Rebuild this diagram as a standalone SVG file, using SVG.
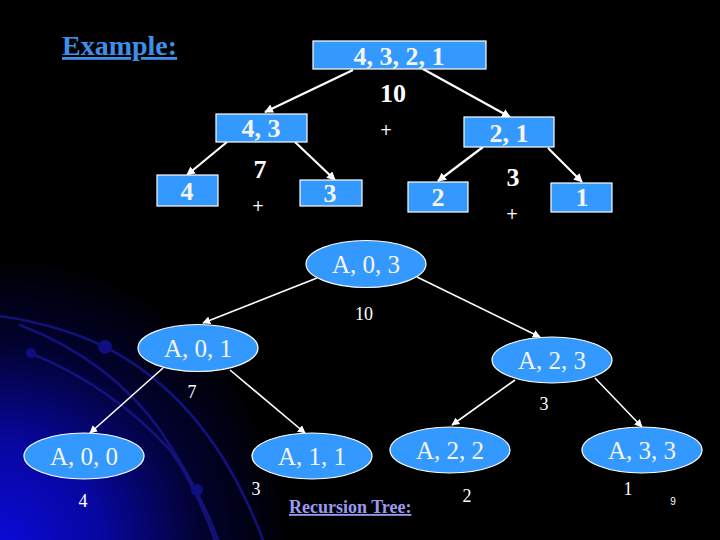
<svg xmlns="http://www.w3.org/2000/svg" width="720" height="540" viewBox="0 0 720 540">
<defs>
<radialGradient id="bg" cx="0" cy="545" r="290" gradientUnits="userSpaceOnUse">
<stop offset="0" stop-color="#0a0ad8"/>
<stop offset="0.35" stop-color="#0707a0"/>
<stop offset="0.7" stop-color="#02022e"/>
<stop offset="1" stop-color="#000000"/>
</radialGradient>
<marker id="ah" viewBox="0 0 10 10" refX="9" refY="5" markerWidth="4" markerHeight="4" orient="auto" markerUnits="strokeWidth">
<path d="M0,0 L10,5 L0,10 z" fill="#ffffff"/>
</marker>
<marker id="ah2" viewBox="0 0 10 10" refX="9" refY="5" markerWidth="5" markerHeight="5" orient="auto" markerUnits="strokeWidth">
<path d="M0,0 L10,5 L0,10 z" fill="#ffffff"/>
</marker>
</defs>
<style>
.box{fill:#3399ff;stroke:#ffffff;stroke-width:1.2}
.ell{fill:#3399ff;stroke:#ffffff;stroke-width:1.2}
.bt{font-family:"Liberation Serif",serif;font-weight:bold;font-size:26px;fill:#f5f5ee;text-anchor:middle}
.et{font-family:"Liberation Serif",serif;font-size:25px;fill:#f5f5ee;text-anchor:middle}
.lb{font-family:"Liberation Serif",serif;font-weight:bold;font-size:26px;fill:#ffffff;text-anchor:middle}
.pl{font-family:"DejaVu Sans",sans-serif;font-size:15px;fill:#ffffff;text-anchor:middle}
.sl{font-family:"Liberation Serif",serif;font-size:18px;fill:#ffffff;text-anchor:middle}
.c1{stroke:#ffffff;stroke-width:2.2;fill:none;marker-end:url(#ah)}
.c2{stroke:#ffffff;stroke-width:1.6;fill:none;marker-end:url(#ah2)}
.arc{stroke:#12127a;stroke-width:2.6;fill:none;stroke-linecap:round}
.dot{fill:#0e0e80}
</style>
<rect x="0" y="0" width="720" height="540" fill="#000000"/>
<rect x="0" y="0" width="720" height="540" fill="url(#bg)"/>
<g id="decoration">
<path class="arc" d="M0,316 Q60,325 105,347 Q210,400 263,540"/>
<path class="arc" d="M20,325 Q110,360 160,430 Q200,490 218,540"/>
<path class="arc" d="M30,353 Q110,385 170,450 Q195,485 215,540"/>
<circle class="dot" cx="105" cy="347" r="7"/>
<circle class="dot" cx="31" cy="353" r="5"/>
<circle class="dot" cx="197" cy="490" r="6"/>
</g>
<text id="title" x="62" y="55" font-family="Liberation Serif, serif" font-weight="bold" font-size="28" fill="#3d8fe8" text-decoration="underline">Example:</text>
<g id="connectors">
<line class="c1" x1="353" y1="70" x2="265" y2="112"/>
<line class="c1" x1="423" y1="69" x2="510" y2="117"/>
<line class="c1" x1="227" y1="142" x2="187" y2="175"/>
<line class="c1" x1="295" y1="142" x2="335" y2="180"/>
<line class="c1" x1="483" y1="147" x2="438" y2="181"/>
<line class="c1" x1="548" y1="148" x2="582" y2="182"/>
<line class="c2" x1="317" y1="278" x2="203" y2="323"/>
<line class="c2" x1="417" y1="277" x2="540" y2="337"/>
<line class="c2" x1="163" y1="368" x2="90" y2="433"/>
<line class="c2" x1="230" y1="370" x2="305" y2="433"/>
<line class="c2" x1="515" y1="380" x2="452" y2="425"/>
<line class="c2" x1="595" y1="378" x2="642" y2="427"/>
</g>
<g id="n4321"><rect class="box" x="313" y="41" width="173" height="28"/><text class="bt" x="399" y="65">4, 3, 2, 1</text></g>
<g id="n43"><rect class="box" x="216" y="114" width="91" height="28"/><text class="bt" x="261" y="137">4, 3</text></g>
<g id="n21"><rect class="box" x="464" y="117" width="90" height="30"/><text class="bt" x="509" y="142">2, 1</text></g>
<g id="n4"><rect class="box" x="157" y="175" width="61" height="31"/><text class="bt" x="187" y="200">4</text></g>
<g id="n3"><rect class="box" x="300" y="180" width="62" height="26"/><text class="bt" x="330" y="202">3</text></g>
<g id="n2"><rect class="box" x="408" y="182" width="60" height="30"/><text class="bt" x="438" y="206">2</text></g>
<g id="n1"><rect class="box" x="551" y="183" width="61" height="29"/><text class="bt" x="582" y="206">1</text></g>
<g id="toplabels">
<text class="lb" x="393" y="102">10</text>
<text class="lb" x="260" y="178">7</text>
<text class="lb" x="513" y="186">3</text>
<text class="pl" x="386" y="135">+</text>
<text class="pl" x="258" y="211">+</text>
<text class="pl" x="512" y="219">+</text>
</g>
<g id="a03"><ellipse class="ell" cx="366" cy="264" rx="60" ry="23.5"/><text class="et" x="366" y="273">A, 0, 3</text></g>
<g id="a01"><ellipse class="ell" cx="198" cy="348" rx="60" ry="23.5"/><text class="et" x="198" y="357">A, 0, 1</text></g>
<g id="a23"><ellipse class="ell" cx="552" cy="360" rx="60" ry="23"/><text class="et" x="552" y="369">A, 2, 3</text></g>
<g id="a00"><ellipse class="ell" cx="84" cy="456" rx="60" ry="23"/><text class="et" x="84" y="465">A, 0, 0</text></g>
<g id="a11"><ellipse class="ell" cx="312" cy="456" rx="60" ry="23"/><text class="et" x="312" y="465">A, 1, 1</text></g>
<g id="a22"><ellipse class="ell" cx="450" cy="450" rx="60" ry="23"/><text class="et" x="450" y="459">A, 2, 2</text></g>
<g id="a33"><ellipse class="ell" cx="642" cy="450" rx="60" ry="23"/><text class="et" x="642" y="459">A, 3, 3</text></g>
<g id="bottomlabels">
<text class="sl" x="364" y="320">10</text>
<text class="sl" x="192" y="398">7</text>
<text class="sl" x="83" y="507">4</text>
<text class="sl" x="256" y="495">3</text>
<text class="sl" x="544" y="410">3</text>
<text class="sl" x="467" y="502">2</text>
<text class="sl" x="628" y="495">1</text>
</g>
<text id="caption" x="289" y="513" font-family="Liberation Serif, serif" font-weight="bold" font-size="18" fill="#9a9af0" text-decoration="underline">Recursion Tree:</text>
<text id="pagenum" x="673" y="505" font-family="Liberation Sans, sans-serif" font-size="10" fill="#ffffff" text-anchor="middle">9</text>
</svg>
